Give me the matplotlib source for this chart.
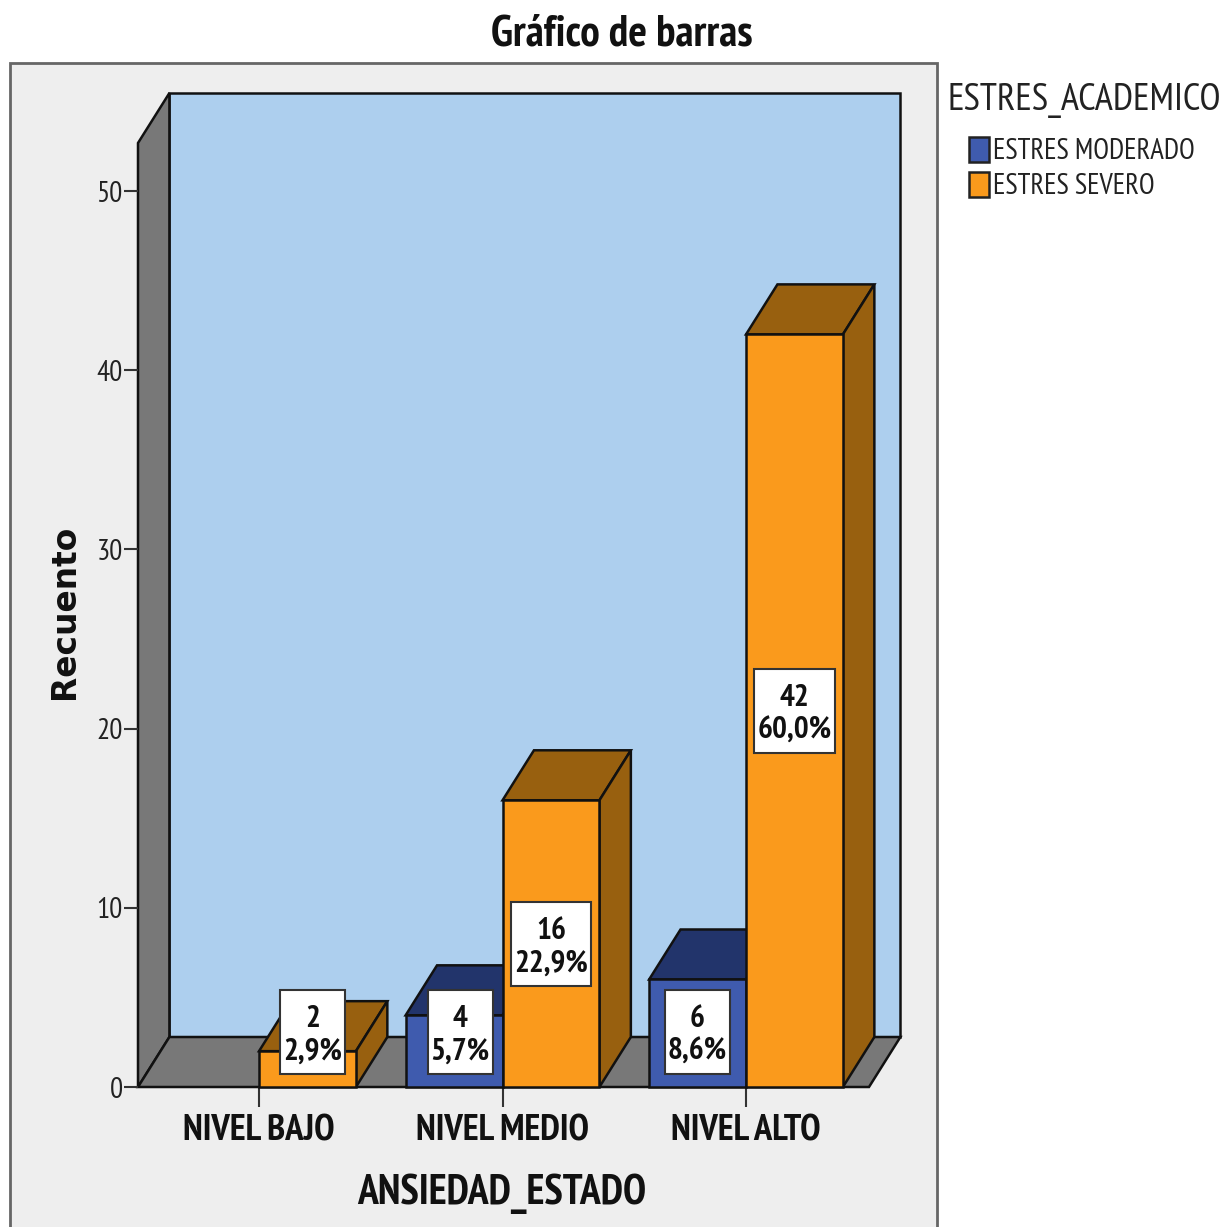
import matplotlib
matplotlib.use('Agg')
import matplotlib.pyplot as plt
from matplotlib.patches import Patch, Polygon, Rectangle
from matplotlib.transforms import IdentityTransform

categories = ['NIVEL BAJO', 'NIVEL MEDIO', 'NIVEL ALTO']
moderado = [0, 4, 6]
severo = [2, 16, 42]
moderado_pct = ['', '5,7%', '8,6%']
severo_pct = ['2,9%', '22,9%', '60,0%']
yticks = [0, 10, 20, 30, 40, 50]

W, H = 1224, 1227
NARROW = ['PT Sans Narrow', 'Liberation Sans', 'DejaVu Sans']

BLUE, BLUE_D = '#3F5BAE', '#22346B'
ORANGE, ORANGE_D = '#FA9A1C', '#98600F'
WALL, BACK, PANEL = '#787878', '#ADCFEE', '#EEEEEE'
EDGE = '#111111'

fig = plt.figure(figsize=(W / 100, H / 100), dpi=100, facecolor='white')

# grey chart panel
fig.add_artist(Rectangle((10 / W, -0.01), 927 / W, 1 - 63 / H + 0.01, transform=fig.transFigure,
                         fc=PANEL, ec='#666666', lw=2, zorder=-1))

ax = fig.add_axes([138 / W, 1 - 1087 / H, 731 / W, 944 / H])
ax.set_xlim(-0.497, 2.505)
ax.set_ylim(0, 52.68)
ax.patch.set_visible(False)

# depth of the fake 3d box, in data units
dx, dy = 0.129, 2.79
bw = 0.398
x0, x1 = ax.get_xlim()
y1 = ax.get_ylim()[1]


def poly(pts, color, z=2):
    ax.add_patch(Polygon(pts, closed=True, fc=color, ec=EDGE, lw=1.8, zorder=z,
                         clip_on=False, joinstyle='miter'))


def bar3d(left, h, front, dark, z):
    right = left + bw
    poly([(left, h), (left + dx, h + dy), (right + dx, h + dy), (right, h)], dark, z)
    poly([(right, 0), (right + dx, dy), (right + dx, h + dy), (right, h)], dark, z)
    poly([(left, 0), (right, 0), (right, h), (left, h)], front, z)


poly([(x0 + dx, dy), (x1 + dx, dy), (x1 + dx, y1 + dy), (x0 + dx, y1 + dy)], BACK, 1)
poly([(x0, 0), (x0 + dx, dy), (x0 + dx, y1 + dy), (x0, y1)], WALL, 1.1)
poly([(x0, 0), (x1, 0), (x1 + dx, dy), (x0 + dx, dy)], WALL, 1.1)

for i in range(len(categories)):
    if moderado[i] > 0:
        bar3d(i - bw, moderado[i], BLUE, BLUE_D, 3 + i)
    bar3d(i, severo[i], ORANGE, ORANGE_D, 3.5 + i)


def label(x, v, pct):
    # SPSS keeps small labels at a minimum height
    y = max(v / 2, 3.07)
    t = ax.text(x, y - 0.2, f'{v}\n{pct}', ha='center', va='center', family=NARROW, weight='bold',
                fontsize=22.5, color='#111111', linespacing=1.22, zorder=11, clip_on=False)
    # white box sized from the text, taller than a plain bbox would give
    bb = t.get_window_extent(fig.canvas.get_renderer())
    cy = ax.transData.transform((x, y))[1]
    ax.add_patch(Rectangle((bb.x0 - 3, cy - 42), bb.width + 6, 84, transform=IdentityTransform(),
                           fc='white', ec='#333333', lw=1.5, zorder=10, clip_on=False))


for i in range(len(categories)):
    if moderado[i] > 0:
        label(i - bw / 2 + (0.025 if i == 1 else 0), moderado[i], moderado_pct[i])
    label(i + bw / 2 + (0.02 if i == 0 else 0), severo[i], severo_pct[i])

ax.set_xticks(range(len(categories)))
ax.set_xticklabels(categories, family=NARROW, weight='bold', fontsize=26.5, color='#111111')
ax.set_yticks(yticks)
ax.set_yticklabels([str(t) for t in yticks], family=NARROW, fontsize=21, color='#222222')
ax.tick_params(axis='x', length=14.4, width=1.5, color='#333333', pad=5.5)
ax.tick_params(axis='y', length=10, width=1.5, color='#333333', pad=1)
for s in ['top', 'right', 'left', 'bottom']:
    ax.spines[s].set_visible(False)

ax.set_xlabel('ANSIEDAD_ESTADO', family=NARROW, weight='bold', fontsize=30, color='#111111', va='center')
ax.xaxis.set_label_coords(0.498, -0.113)
ax.set_ylabel('Recuento', family=['DejaVu Sans'], weight='bold', fontsize=23.7, color='#111111', va='center')
ax.yaxis.set_label_coords(-0.101, 0.503)

fig.text(622 / W, 1 - 35 / H, 'Gráfico de barras', ha='center', va='center', family=NARROW,
         weight='bold', fontsize=31.5, color='#111111')
fig.text(947 / W, 1 - 100 / H, 'ESTRES_ACADEMICO', ha='left', va='center', family=NARROW,
         fontsize=27.5, color='#222222')

handles = [Patch(fc=BLUE, ec='#222222', lw=1.8, label='ESTRES MODERADO'),
           Patch(fc=ORANGE, ec='#222222', lw=1.8, label='ESTRES SEVERO')]
fig.legend(handles=handles, loc='upper left', bbox_to_anchor=(969 / W, 1 - 137 / H), frameon=False,
           prop={'family': NARROW, 'size': 20.7}, labelcolor='#222222', borderpad=0, borderaxespad=0,
           handlelength=0.7, handleheight=0.95, handletextpad=0.14, labelspacing=0.24)

fig.savefig('out.png', dpi=100, facecolor='white')
